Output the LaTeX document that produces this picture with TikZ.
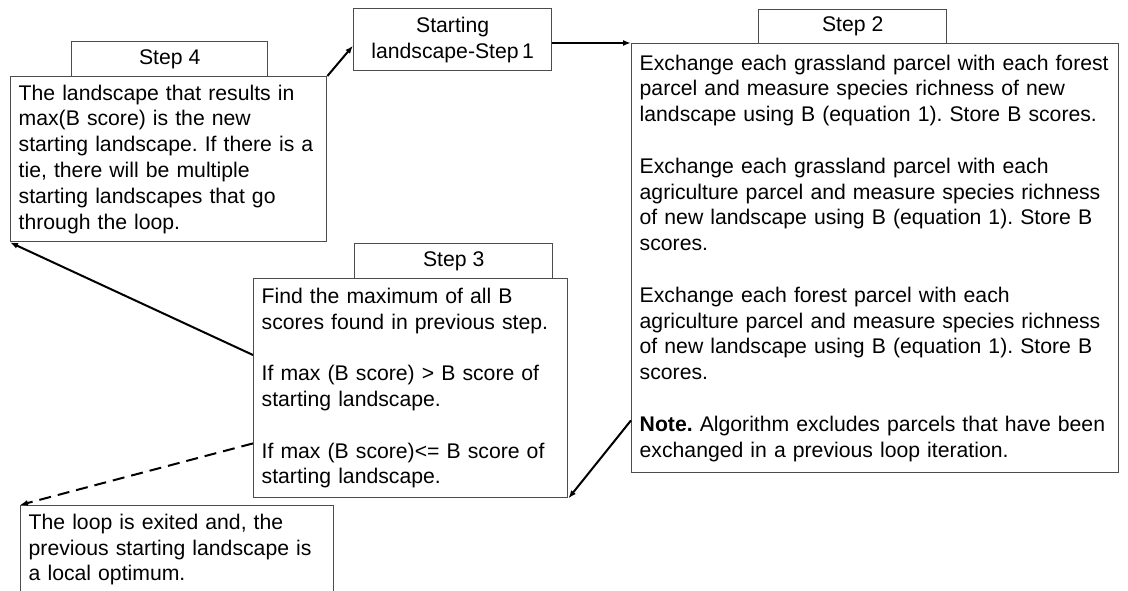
\documentclass[tikz,border=0pt]{standalone}
\usepackage{fontspec}
\setmainfont{Liberation Sans}
\usetikzlibrary{arrows.meta}
\frenchspacing

\begin{document}
\begin{tikzpicture}
    [%%%%%%%%%%%%%%%%%%%%%%%%%%%%%%
        x=1pt, y=-1pt,
        box/.style={rectangle, draw=black!70, line width=1.4pt, anchor=north west,
            inner xsep=8pt, inner ysep=0pt, align=left,
            font=\fontsize{21.2}{25.8}\selectfont},
        tab/.style={rectangle, draw=black!70, line width=1.4pt, anchor=north west,
            inner sep=0pt, align=center, font=\fontsize{21.2}{25.8}\selectfont},
        link/.style={-{Latex[length=8pt,width=6pt]}, line width=2pt},
    ]%%%%%%%%%%%%%%%%%%%%%%%%%%%%%%
\useasboundingbox (0,0) rectangle (1128,590);
\node[tab, minimum width=196pt, minimum height=35pt] (tab4) at (71,41) {Step 4};
\node[tab, minimum width=188pt, minimum height=34pt] (tab2) at (758,9) {Step 2};
\node[tab, minimum width=198pt, minimum height=35pt] (tab3) at (354,243) {Step 3};
\node[tab, minimum width=198pt, minimum height=62pt] (start) at (353,8) {Starting\\landscape-Step\,1};
\node[box, text width=300pt, minimum height=165pt, fill=white] (s4) at (10,76)
    {The landscape that results in\\
     max(B score) is the new\\
     starting landscape. If there is a\\
     tie, there will be multiple\\
     starting landscapes that go\\
     through the loop.};
\node[box, text width=471pt, minimum height=429pt, fill=white] (s2) at (631,43)
    {Exchange each grassland parcel with each forest\\
     parcel and measure species richness of new\\
     landscape using B (equation 1). Store B scores.\\[25.8pt]
     Exchange each grassland parcel with each\\
     agriculture parcel and measure species richness\\
     of new landscape using B (equation 1). Store B\\
     scores.\\[25.8pt]
     Exchange each forest parcel with each\\
     agriculture parcel and measure species richness\\
     of new landscape using B (equation 1). Store B\\
     scores.\\[25.8pt]
     \textbf{Note.} Algorithm excludes parcels that have been\\
     exchanged in a previous loop iteration.};
\node[box, text width=298pt, minimum height=219pt, fill=white] (s3) at (253,278)
    {Find the maximum of all B\\
     scores found in previous step.\\[25.8pt]
     If max (B score) > B score of\\
     starting landscape.\\[25.8pt]
     If max (B score)<= B score of\\
     starting landscape.};
\node[box, text width=297pt, minimum height=88pt] (exit) at (20,505)
    {The loop is exited and, the\\
     previous starting landscape is\\
     a local optimum.};
\draw[link] (s4.north east) -- ([yshift=-6pt]start.west);
\draw[link] (start.east |- s2.north west) -- (s2.north west);
\draw[link] ([yshift=53pt]s2.south west) -- (s3.south east);
\draw[link] ([yshift=-77pt]s3.north west) -- (s4.south west);
\draw[link, dash pattern=on 12pt off 7pt] ([yshift=55pt]s3.south west) -- (exit.north west);
\end{tikzpicture}
\end{document}
